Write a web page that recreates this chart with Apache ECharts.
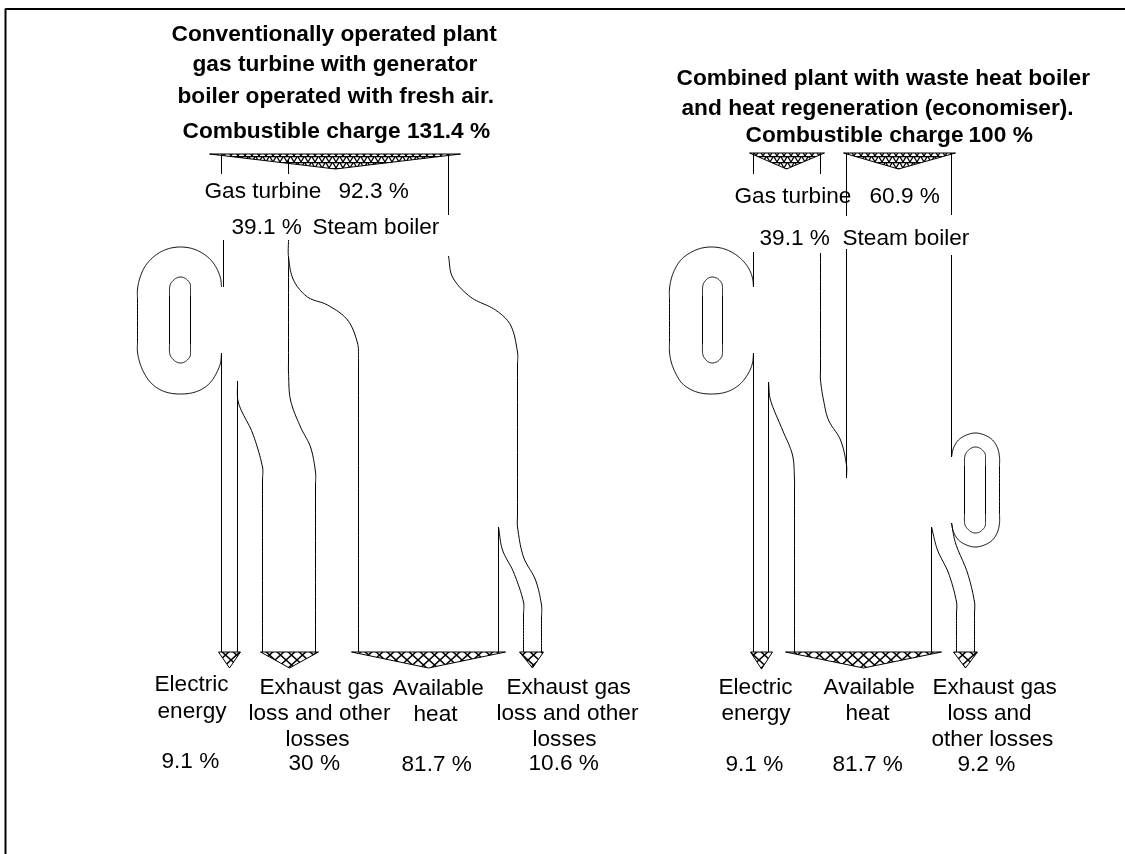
<!DOCTYPE html>
<html><head><meta charset="utf-8">
<style>html,body{margin:0;padding:0;background:#fff}#c{width:1125px;height:854px}</style>
<script src="https://cdn.jsdelivr.net/npm/echarts@6/dist/echarts.min.js"></script>
</head><body><div id="c"></div>
<script>
// Flow outlines, in a 1125 x 854 diagram plane.
const frame = [[5,854],[5,9],[1125,9]];
const straightLeft = [
  [[221,154],[221,174]], [[288,160],[288,174]], [[448,154],[448,215]],
  [[223,240],[223,287]], [[221,353],[221,652]],
  [[237,381],[237,652]], [[498,527],[498,652]]
];
const curvedLeft = [
  [[221,287],[220,278],[216,268],[209.7,259.3],[201,252.6],[191,248.4],[180,247],[169,248.4],[159,252.6],[150.3,259.3],[143.6,268],[139.4,278],[137,289],[137,300],[137,341],[137,352],[139.4,363],[143.6,373],[150.3,382.7],[159,389.4],[169,393],[180,394],[191,393],[201,389.4],[209.7,382.7],[216,373],[220,363],[221,353]],
  [[169,288],[170,284],[172.6,280.6],[176,278],[180,277],[184,278],[187.4,280.6],[189.7,284],[190,288],[190,296],[190,344],[190,352],[189.7,356],[187.4,359.4],[184,362],[180,363],[176,362],[172.6,359.4],[170,356],[169,352],[169,344],[169,296],[169,288]],
  [[288,240],[288,257],[293,280],[307,297],[327,305],[347,320],[357,343],[358,360],[358,372],[358,652]],
  [[288,257],[288,270],[288,360],[288,372],[290,400],[300,427],[310,447],[315,472],[315,485],[315,652]],
  [[237,381],[238,403],[252,433],[262,467],[262,480],[262,652]],
  [[448,256],[452,277],[470,297],[495,310],[510,325],[517,352],[517,365],[517,515],[517,527],[523,557],[535,580],[541,605],[541,618],[541,652]],
  [[498,527],[502,550],[513,572],[523,602],[523,615],[523,652]]
];
const straightRight = [
  [[753,153],[753,174]], [[820,153],[820,174]], [[846,153],[846,216]], [[951,153],[951,215]],
  [[753,252],[753,287]], [[753,353],[753,652]],
  [[846,249],[846,478]], [[951,255],[951,457]], [[768,382],[768,652]],
  [[931,527],[931,652]]
];
const curvedRight = [
  [[753,287],[752,278],[748,268],[741,259.3],[732,252.6],[722,248.4],[711,247],[700,248.4],[690,252.6],[681,259.3],[675,268],[671,278],[669,289],[669,300],[669,341],[669,352],[671,363],[675,373],[681,382.7],[690,389.4],[700,393],[711,394],[722,393],[732,389.4],[741,382.7],[748,373],[752,363],[753,353]],
  [[702,288],[702.8,284],[705,280.6],[708,278],[712,277],[716,278],[719.4,280.6],[721.5,284],[722,288],[722,296],[722,344],[722,352],[721.5,356],[719.4,359.4],[716,362],[712,363],[708,362],[705,359.4],[702.8,356],[702,352],[702,344],[702,296],[702,288]],
  [[820,253],[820,368],[820,380],[823,400],[828,420],[840,440],[846,465],[846,478]],
  [[768,382],[770,400],[782,430],[792,455],[794,480],[794,492],[794,652]],
  [[951,457],[953,448],[958,440],[966,435],[975,433],[984,435],[992,440],[997,448],[999,457],[999,467],[999,513],[999,523],[997,532],[992,540],[984,545],[975,547],[966,545],[958,540],[953,532],[951,523]],
  [[964,458],[965,454],[967.6,450.6],[971,448],[975,447],[979,448],[982.4,450.6],[984.7,454],[985,458],[985,466],[985,514],[985,522],[984.7,526],[982.4,529.4],[979,532],[975,533],[971,532],[967.6,529.4],[965,526],[964,522],[964,514],[964,466],[964,458]],
  [[951,523],[955,543],[967,573],[974,602],[974,614],[974,652]],
  [[931,527],[937,550],[948,573],[956,602],[956,614],[956,652]]
];
const inflowHeads = [
  [[209,154],[460,154],[335,169]],
  [[749,153],[824,153],[786,169]],
  [[843,153],[955,153],[898,169]]
];
const outflowHeads = [
  [[218,652],[240,652],[229,668]],
  [[260,652],[318,652],[289,668]],
  [[351,652],[505,652],[428,668]],
  [[519,652],[543,652],[532,668]],
  [[750,652],[772,652],[761,669]],
  [[785,652],[941,652],[863,668]],
  [[953,652],[977,652],[965,668]]
];
const titleTexts = [
  ["Conventionally operated plant",171,33],["gas turbine with generator",192,63],
  ["boiler operated with fresh air.",177,95],["Combustible charge 131.4 %",182,130],
  ["Combined plant with waste heat boiler",676,77],["and heat regeneration (economiser).",681,107],
  ["Combustible charge",745,134],["100 %",968,134]
];
const labelTexts = [
  ["Gas turbine",204,190],["92.3 %",338,190],["39.1 %",231,226],["Steam boiler",312,226],
  ["Gas turbine",734,195],["60.9 %",869,195],["39.1 %",759,237],["Steam boiler",842,237],
  ["Electric",154,683],["energy",157,710],["9.1 %",161,760],
  ["Exhaust gas",259,686],["loss and other",248,712],["losses",285,738],["30 %",288,762],
  ["Available",392,687],["heat",413,713],["81.7 %",401,763],
  ["Exhaust gas",506,686],["loss and other",496,712],["losses",532,738],["10.6 %",528,762],
  ["Electric",718,686],["energy",721,712],["9.1 %",725,763],
  ["Available",823,686],["heat",845,712],["81.7 %",832,763],
  ["Exhaust gas",932,686],["loss and",947,712],["other losses",931,738],["9.2 %",957,763]
];

function hatch(w, h, lw, draw) {
  const cv = document.createElement('canvas');
  cv.width = w; cv.height = h;
  const g = cv.getContext('2d');
  g.fillStyle = '#fff'; g.fillRect(0,0,w,h);
  g.strokeStyle = '#000'; g.lineWidth = lw;
  g.beginPath(); draw(g); g.stroke();
  return {image: cv, repeat: 'repeat'};
}
const fineMesh = hatch(7, 6, 1.3, g => {
  g.moveTo(0,6); g.lineTo(3.5,0); g.lineTo(7,6);
  g.moveTo(0,0.5); g.lineTo(7,0.5);
});
const coarseMesh = hatch(11, 10, 1.5, g => {
  g.moveTo(0,0); g.lineTo(11,10);
  g.moveTo(11,0); g.lineTo(0,10);
});

// Rounds a path through its pixel-space points with tangent-continuous cubic spans.
function roundPath(pts) {
  const out = [pts[0]];
  const tan = i => {
    const a = pts[Math.max(i-1,0)], b = pts[Math.min(i+1,pts.length-1)];
    const dx = b[0]-a[0], dy = b[1]-a[1], n = Math.hypot(dx,dy)||1;
    return [dx/n, dy/n];
  };
  for (let i=0;i<pts.length-1;i++) {
    const p = pts[i], q = pts[i+1], d = Math.hypot(q[0]-p[0],q[1]-p[1]);
    const t0 = tan(i), t1 = tan(i+1);
    const c0 = [p[0]+t0[0]*d/3, p[1]+t0[1]*d/3], c1 = [q[0]-t1[0]*d/3, q[1]-t1[1]*d/3];
    for (let k=1;k<=12;k++) {
      const u = k/12, v = 1-u;
      out.push([
        v*v*v*p[0]+3*v*v*u*c0[0]+3*v*u*u*c1[0]+u*u*u*q[0],
        v*v*v*p[1]+3*v*v*u*c0[1]+3*v*u*u*c1[1]+u*u*u*q[1]
      ]);
    }
  }
  return out;
}
function lineSeries(path, width) {
  return {type:'line', data:path, showSymbol:false, symbol:'none', silent:true,
    clip:false, animation:false, lineStyle:{color:'#000', width:width||1}};
}
function curveSeries(list) {
  return {type:'custom', silent:true, animation:false, clip:false,
    data:list.map((_,i)=>[i]),
    renderItem:(p,api)=>({type:'polyline',
      shape:{points:roundPath(list[p.dataIndex].map(pt=>api.coord(pt)))},
      style:{fill:null, stroke:'#000', lineWidth:1, lineJoin:'round'}})};
}
function headSeries(list, fill) {
  return {type:'custom', silent:true, animation:false, clip:false,
    data:list.map((_,i)=>[i]),
    renderItem:(p,api)=>({type:'polygon',
      shape:{points:list[p.dataIndex].map(pt=>api.coord(pt))},
      style:{fill:fill, stroke:'#000', lineWidth:1, lineJoin:'round'}})};
}
function textSeries(list, font) {
  return {type:'custom', silent:true, animation:false, clip:false,
    data:list.map((_,i)=>[i]),
    renderItem:(p,api)=>{
      const t = list[p.dataIndex], c = api.coord([t[1],t[2]]);
      return {type:'text', x:c[0], y:c[1]+1.5,
        style:{text:t[0], font:font, fill:'#000', textAlign:'left', textVerticalAlign:'middle'}};
    }};
}
const chart = echarts.init(document.getElementById('c'), null, {renderer:'canvas'});
chart.setOption({
  animation:false,
  backgroundColor:'#fff',
  grid:{left:0,right:0,top:0,bottom:0},
  xAxis:{type:'value',min:-0.5,max:1124.5,show:false},
  yAxis:{type:'value',min:0,max:854,inverse:true,show:false},
  series:[
    lineSeries(frame,2),
    ...straightLeft.concat(straightRight).map(p=>lineSeries(p)),
    curveSeries(curvedLeft.concat(curvedRight)),
    headSeries(inflowHeads,fineMesh),
    headSeries(outflowHeads,coarseMesh),
    textSeries(titleTexts,'bold 22.7px "Liberation Sans"'),
    textSeries(labelTexts,'22.6px "Liberation Sans"')
  ]
});
</script></body></html>
